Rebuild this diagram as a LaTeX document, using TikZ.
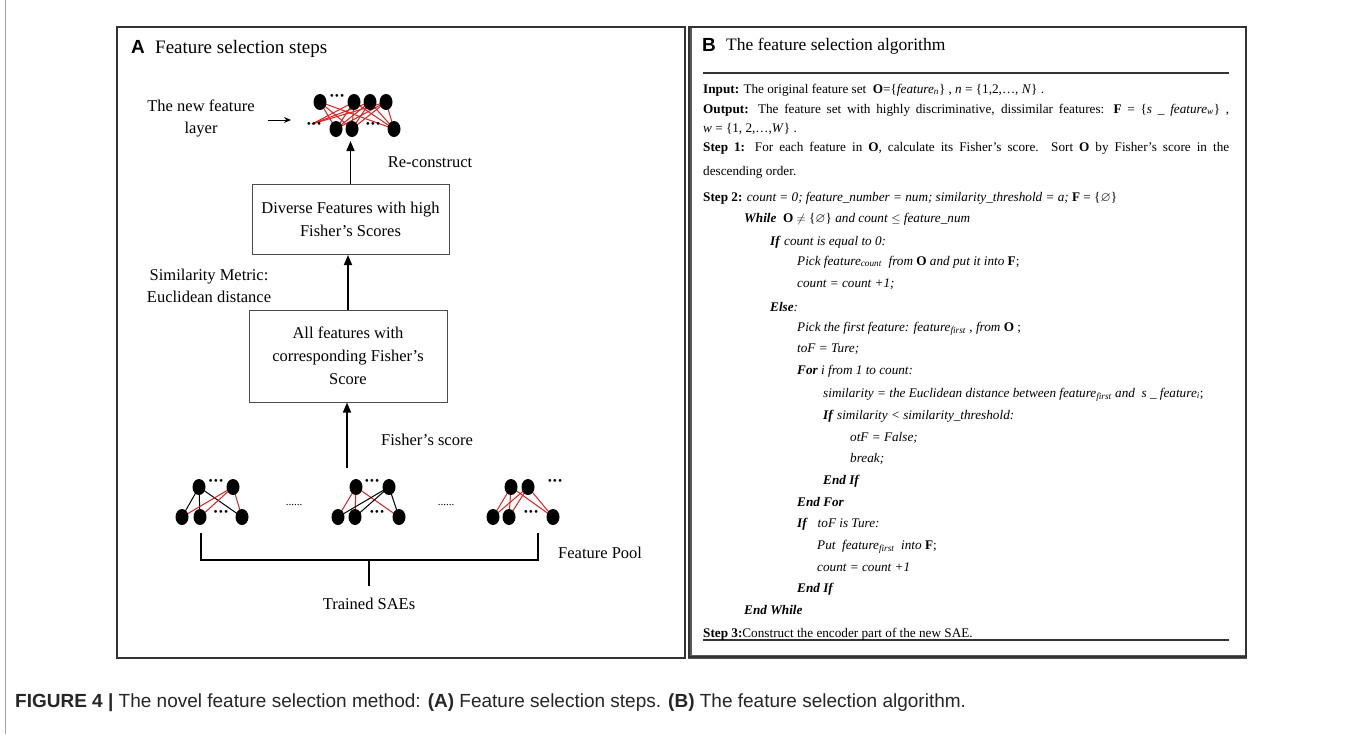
\documentclass[tikz,border=0pt]{standalone}
\usepackage{fontspec}
\usepackage{amssymb}
\usepackage{graphicx}
\setmainfont{Liberation Serif}
\newfontfamily\capsans{Liberation Sans}
\usetikzlibrary{arrows.meta,shapes.geometric}
\definecolor{netred}{RGB}{222,32,32}
\newcommand{\mydots}{\textbf{\char"00B7\kern-0.5pt\char"00B7\kern-0.5pt\char"00B7}}
\tikzset{
 panelbox/.style={draw=black!80,line width=1.1pt},
 lbl/.style={inner sep=0,align=center,font=\fontsize{16.5}{22}\selectfont},
 flowbox/.style={draw=black!70,line width=1pt,inner sep=0,align=center,font=\fontsize{16.5}{23}\selectfont},
 neu/.style={ellipse,fill=black,minimum width=13pt,minimum height=16pt,inner sep=0},
 dotsn/.style={inner sep=0,font=\fontsize{17}{17}\selectfont},
 flowarr/.style={-{Triangle[length=10pt,width=8pt]},line width=1.6pt},
 redw/.style={draw=netred,line width=1pt},
 blkw/.style={draw=black,line width=1pt},
 alg/.style={anchor=base west,inner sep=0,font=\fontsize{13.2}{15}\selectfont},
 algrule/.style={draw=black!80,line width=1.3pt},
}
\begin{document}
\begin{tikzpicture}[x=1pt,y=-1pt]
\useasboundingbox (0,0) rectangle (1356,734);
\fill[white] (0,0) rectangle (1356,734);
\draw[black!35,line width=0.8pt] (5,0) -- (5,734);

% ---------- panel A ----------
\draw[panelbox] (117,27) rectangle (685,658);
\node[anchor=base west,inner sep=0,font=\capsans\bfseries\fontsize{19}{19}\selectfont] (tA) at (131,53) {A};
\node[anchor=base west,inner sep=0,font=\fontsize{19}{19}\selectfont] (tAt) at (155,53) {Feature selection steps};

\node[lbl] (newl) at (201,118) {The new feature\\layer};
\coordinate (ar1s) at (268,120);
\coordinate (ar1e) at (291,120);
\draw[-{Stealth[length=7pt,width=6pt]},line width=1pt] (ar1s) -- (ar1e);

% top network
\coordinate (lp) at (312,124);
\foreach \n/\x in {t1/320,t2/354,t3/370,t4/386} \coordinate (\n) at (\x,102);
\foreach \n/\x in {b1/336,b2/352,b3/394} \coordinate (\n) at (\x,129);
\foreach \t in {t1,t2,t3,t4} \foreach \b in {b1,b2,b3} \draw[redw] (\t) -- (\b);
\foreach \t in {t2,t3,t4} \draw[redw] (lp) -- (\t);
\foreach \n in {t1,t2,t3,t4,b1,b2,b3} \node[neu] (N\n) at (\n) {};
\node[dotsn] (tdots) at (337,98) {\mydots};
\node[dotsn] (bdots1) at (314,126) {\mydots};
\node[dotsn] (bdots2) at (373,126) {\mydots};

\node[lbl] (recon) at (430,162) {Re-construct};

\node[flowbox,minimum width=197pt,minimum height=70pt] (bx1) at (350.5,219.5) {Diverse Features with high\\Fisher’s Scores};
\node[flowbox,minimum width=198pt,minimum height=92pt] (bx2) at (348,356) {All features with\\corresponding Fisher’s\\Score};
\coordinate (nettop) at (350.5,141);
\draw[flowarr] (bx1.north) -- (nettop);
\draw[flowarr] (bx2.north) -- (bx2.north |- bx1.south);
\node[lbl] (sim) at (209,286) {Similarity Metric:\\Euclidean distance};

\coordinate (fsb) at (347,468);
\draw[flowarr] (fsb) -- (fsb |- bx2.south);
\node[lbl] (fsl) at (427,440) {Fisher’s score};

% bottom networks
\foreach \p/\ta/\tb/\ba/\bb/\bc in {a/199/233/182/200/242, b/356/389/338/355/399, c/511/528/493/509/553}{
  \coordinate (\p T1) at (\ta,487);
  \coordinate (\p T2) at (\tb,487);
  \coordinate (\p B1) at (\ba,517);
  \coordinate (\p B2) at (\bb,517);
  \coordinate (\p B3) at (\bc,517);
}
% net a
\foreach \b in {aB1,aB2,aB3} \draw[blkw] (aT1) -- (\b);
\foreach \b in {aB1,aB2,aB3} \draw[redw] (aT2) -- (\b);
% net b
\foreach \b in {bB1,bB2,bB3} \draw[redw] (bT1) -- (\b);
\foreach \b in {bB1,bB2,bB3} \draw[blkw] (bT2) -- (\b);
% net c
\foreach \t in {cT1,cT2} \foreach \b in {cB1,cB2,cB3} \draw[redw] (\t) -- (\b);
\foreach \n in {aT1,aT2,aB1,aB2,aB3,bT1,bT2,bB1,bB2,bB3,cT1,cT2,cB1,cB2,cB3} \node[neu] (N\n) at (\n) {};
\node[dotsn] (adt) at (216,483) {\mydots};
\node[dotsn] (adb) at (221,514) {\mydots};
\node[dotsn] (bdt) at (372,483) {\mydots};
\node[dotsn] (bdb) at (377,514) {\mydots};
\node[dotsn] (cdt) at (555,483) {\mydots};
\node[dotsn] (cdb) at (531,514) {\mydots};
\node[inner sep=0,font=\fontsize{11}{11}\selectfont] (gap1) at (294,505) {......};
\node[inner sep=0,font=\fontsize{11}{11}\selectfont] (gap2) at (446,505) {......};

% bracket
\coordinate (brl) at (201,533);
\coordinate (brr) at (538,533);
\coordinate (brm) at (369,560);
\coordinate (brc) at (369,586);
\draw[line width=1.8pt] (brl) -- (brl |- brm) -- (brr |- brm) -- (brr);
\draw[line width=1.8pt] (brm) -- (brc);
\node[lbl,anchor=west] (fpool) at (558,553) {Feature Pool};
\node[lbl] (tsae) at (369,604) {Trained SAEs};

% ---------- panel B ----------
\fill[black!65] (687.5,27) rectangle (691.5,658);
\fill[black!65] (687.5,654.5) rectangle (1247,658.5);
\draw[draw=black!80,line width=1.6pt] (689,27) rectangle (1246,657);
\node[anchor=base west,inner sep=0,font=\capsans\bfseries\fontsize{19}{19}\selectfont] (tB) at (702,51) {B};
\node[anchor=base west,inner sep=0,font=\fontsize{17.5}{19}\selectfont] (tBt) at (726,50) {The feature selection algorithm};
\coordinate (r1a) at (703,73); \coordinate (r1b) at (1229,73);
\coordinate (r2a) at (703,640); \coordinate (r2b) at (1229,640);
\draw[algrule] (r1a) -- (r1b);
\draw[algrule] (r2a) -- (r2b);

\node[alg] (l1) at (703,93) {\textbf{Input:} The original feature set\ \ \textbf{O}=\{\textit{feature}\textsubscript{\textit{n}}\} , \textit{n} = \{1,2,…, \textit{N}\} .};
\node[alg] (l2) at (703,113) {\makebox[526pt][s]{\textbf{Output:} The feature set with highly discriminative, dissimilar features: \textbf{F} = \{\textit{s} \_ \textit{feature}\textsubscript{\textit{w}}\} ,}};
\node[alg] (l3) at (703,132) {\textit{w} = \{1, 2,…,\textit{W}\} .};
\node[alg] (l4) at (703,151) {\makebox[526pt][s]{\textbf{Step 1:} For each feature in \textbf{O}, calculate its Fisher’s score. Sort \textbf{O} by Fisher’s score in the}};
\node[alg] (l5) at (703,175) {descending order.};
\node[alg] (l6) at (703,201) {\textbf{Step 2:} \textit{count = 0; feature\_number = num; similarity\_threshold = a;} \textbf{F} = \{$\varnothing$\}};
\node[alg] (l7) at (744,222) {\textbf{\textit{While}}\ \ \textbf{O} $\neq$ \{$\varnothing$\} \textit{and count} $\leq$ \textit{feature\_num}};
\node[alg] (l8) at (770,245) {\textbf{\textit{If}} \textit{count is equal to 0:}};
\node[alg] (l9) at (797,265) {\textit{Pick feature}\textsubscript{\textit{count}}\ \ \textit{from} \textbf{O} \textit{and put it into} \textbf{F};};
\node[alg] (l10) at (797,287) {\textit{count = count +1;}};
\node[alg] (l11) at (770,311) {\textbf{\textit{Else}}\textit{:}};
\node[alg] (l12) at (797,331) {\textit{Pick the first feature: feature}\textsubscript{\textit{first}} , \textit{from} \textbf{O} ;};
\node[alg] (l13) at (797,352) {\textit{toF = Ture;}};
\node[alg] (l14) at (797,374) {\textbf{\textit{For}} \textit{i from 1 to count:}};
\node[alg] (l15) at (823,397) {\textit{similarity = the Euclidean distance between feature}\textsubscript{\textit{first}} \textit{and}\ \ \textit{s \_ feature}\textsubscript{\textit{i}};};
\node[alg] (l16) at (823,419) {\textbf{\textit{If}} \textit{similarity < similarity\_threshold:}};
\node[alg] (l17) at (850,441) {\textit{otF = False;}};
\node[alg] (l18) at (850,462) {\textit{break;}};
\node[alg] (l19) at (823,484) {\textbf{\textit{End If}}};
\node[alg] (l20) at (797,506) {\textbf{\textit{End For}}};
\node[alg] (l21) at (797,527) {\textbf{\textit{If}}\ \ \ \textit{toF is Ture:}};
\node[alg] (l22) at (817,549) {\textit{Put\ \ feature}\textsubscript{\textit{first}}\ \ \textit{into} \textbf{F};};
\node[alg] (l23) at (817,571) {\textit{count = count +1}};
\node[alg] (l24) at (797,592) {\textbf{\textit{End If}}};
\node[alg] (l25) at (744,614) {\textbf{\textit{End While}}};
\node[alg] (l26) at (703,637) {\textbf{Step 3:}Construct the encoder part of the new SAE.};

% ---------- caption ----------
\node[anchor=base west,inner sep=0,font=\capsans\fontsize{19}{19}\selectfont,text=black!85] (cap) at (15,707) {\textbf{FIGURE 4 |} The novel feature selection method: \textbf{(A)} Feature selection steps. \textbf{(B)} The feature selection algorithm.};
\end{tikzpicture}
\end{document}
